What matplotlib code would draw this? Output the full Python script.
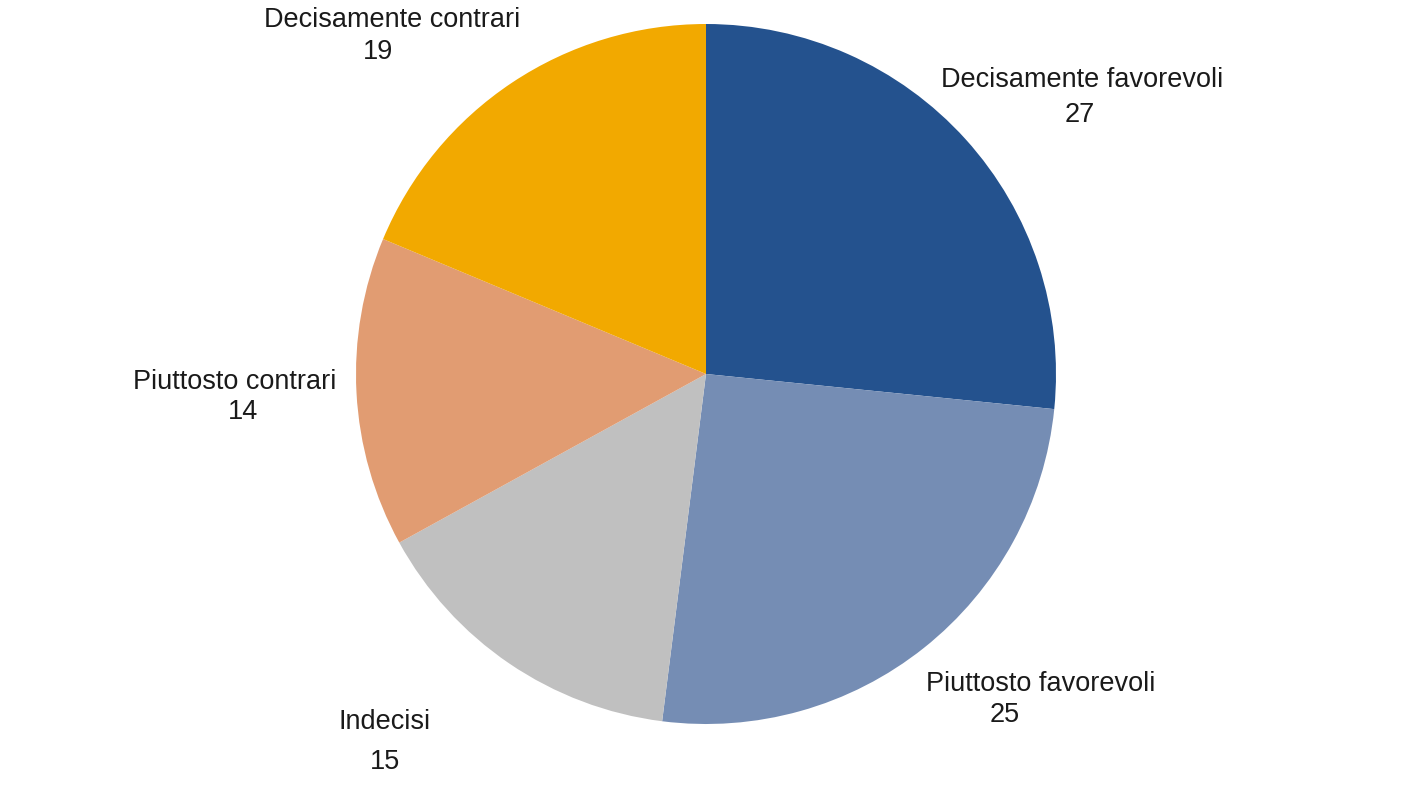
import matplotlib.pyplot as plt

# data
categories = ['Decisamente favorevoli', 'Piuttosto favorevoli', 'Indecisi',
              'Piuttosto contrari', 'Decisamente contrari']
shares = [26.6, 25.4, 15.0, 14.3, 18.7]   # slice sizes as drawn
labels = ['27', '25', '15', '14', '19']    # rounded values printed
colors = ['#24528E', '#758DB4', '#C0C0C0', '#E19C72', '#F2A900']

# label positions in pixel coords (name x, name y, value x, value y), y from top
label_pos = [(1082, 80, 1080, 115),
             (1041, 684, 1005, 715),
             (385, 722, 385, 762),
             (235, 382, 243, 412),
             (392, 20, 378, 52)]

W, H = 1408, 792
fig = plt.figure(figsize=(W / 100, H / 100), dpi=100)
ax = fig.add_axes([0, 0, 1, 1])
ax.set_xlim(0, W)
ax.set_ylim(0, H)
ax.set_aspect('equal')
ax.axis('off')

ax.pie(shares, colors=colors, startangle=90, counterclock=False,
       center=(706, H - 374), radius=350,
       wedgeprops=dict(linewidth=0))

ax.set_xlim(0, W)
ax.set_ylim(0, H)

for name, lab, (nx, ny, vx, vy) in zip(categories, labels, label_pos):
    ax.text(nx, H - ny, name, ha='center', va='center', fontsize=19.5,
            family='Liberation Sans', color='#1a1a1a')
    ax.text(vx, H - vy, lab, ha='center', va='center', fontsize=19.5,
            family='Liberation Sans', color='#1a1a1a')

fig.savefig('out.png', dpi=100)
